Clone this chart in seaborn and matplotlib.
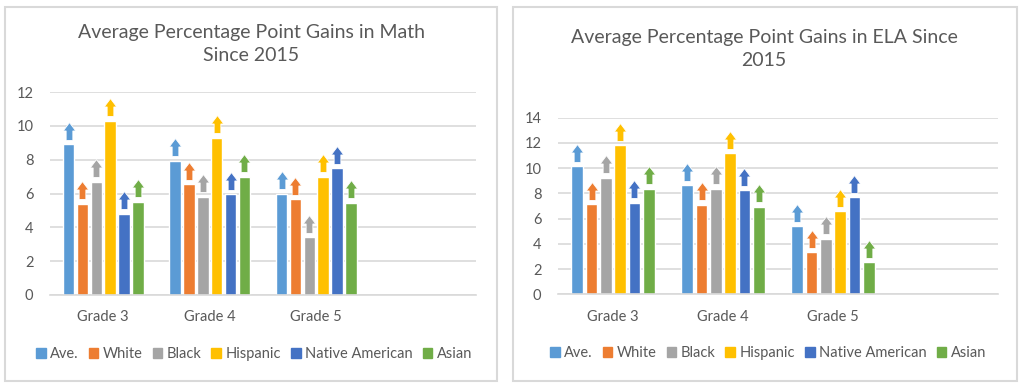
import matplotlib
matplotlib.use("Agg")
import matplotlib.pyplot as plt
import matplotlib.transforms as mtransforms
from matplotlib.path import Path
from matplotlib.patches import Patch, Rectangle
import seaborn as sns
import pandas as pd

grades = ["Grade 3", "Grade 4", "Grade 5"]
groups = ["Ave.", "White", "Black", "Hispanic", "Native American", "Asian"]
colors = ["#5B9BD5", "#ED7D31", "#A5A5A5", "#FFC000", "#4472C4", "#70AD47"]

# gains per group, one value per grade
math_gains = {
    "Ave.": [8.9, 7.95, 6.0],
    "White": [5.4, 6.55, 5.65],
    "Black": [6.7, 5.8, 3.4],
    "Hispanic": [10.3, 9.3, 7.0],
    "Native American": [4.8, 5.95, 7.5],
    "Asian": [5.5, 7.0, 5.45],
}
ela_gains = {
    "Ave.": [10.15, 8.65, 5.4],
    "White": [7.15, 7.1, 3.35],
    "Black": [9.25, 8.35, 4.4],
    "Hispanic": [11.8, 11.2, 6.6],
    "Native American": [7.25, 8.25, 7.7],
    "Asian": [8.35, 6.95, 2.55],
}

TXT = "#595959"
GRID = "#D9D9D9"

sns.set_style("white")
plt.rcParams["font.family"] = ["Lato", "DejaVu Sans"]

# upward arrow marker
arrow = Path([(-3.2, -8.5), (3.2, -8.5), (3.2, 0.5), (6, 0.5), (0, 8.5),
              (-6, 0.5), (-3.2, 0.5), (-3.2, -8.5)], closed=True)


def to_long(gains):
    rows = []
    for g in groups:
        for grade, v in zip(grades, gains[g]):
            rows.append({"grade": grade, "group": g, "gain": v})
    return pd.DataFrame(rows)


def draw_panel(fig, rect, gains, ymax, title, title_x, title_y):
    ax = fig.add_axes(rect)
    df = to_long(gains)
    sns.barplot(data=df, x="grade", y="gain", hue="group", hue_order=groups,
                palette=colors, width=0.78, gap=0.17, legend=False, ax=ax,
                saturation=1, errorbar=None)
    ax.set_xlim(-0.5, 3.5)
    ax.set_ylim(0, ymax)
    ax.set_yticks(range(0, ymax + 1, 2))
    ax.grid(axis="y", color=GRID, lw=1.2)
    ax.set_axisbelow(True)
    for s in ["top", "left", "right"]:
        ax.spines[s].set_visible(False)
    ax.spines["bottom"].set_color(GRID)
    ax.spines["bottom"].set_linewidth(1.2)
    ax.tick_params(axis="both", length=0, colors=TXT, labelsize=10.5)
    ax.tick_params(axis="x", pad=11)
    ax.tick_params(axis="y", pad=12)
    ax.set_xlabel("")
    ax.set_ylabel("")

    off = mtransforms.offset_copy(ax.transData, fig=fig, y=9.7, units="points")
    for cont, c in zip(ax.containers, colors):
        xs = [b.get_x() + b.get_width() / 2 for b in cont]
        ys = [b.get_height() for b in cont]
        ax.scatter(xs, ys, marker=arrow, s=165, color=c, edgecolor="white",
                   linewidth=0.6, transform=off, clip_on=False, zorder=5)

    fig.text(title_x, title_y, title, ha="center", va="center", color=TXT,
             fontsize=14, linespacing=1.4)
    return ax


fig = plt.figure(figsize=(10.24, 3.88), dpi=100)

# panel frames
for x0, x1 in [(5, 497), (513, 1017)]:
    fig.patches.append(Rectangle((x0 / 1024, 7 / 388), (x1 - x0) / 1024, 374 / 388,
                                 transform=fig.transFigure, fill=False,
                                 edgecolor=GRID, lw=1.5))

draw_panel(fig, [50 / 1024, 93 / 388, 426 / 1024, 203 / 388], math_gains, 12,
           "Average Percentage Point Gains in Math\nSince 2015",
           251 / 1024, 1 - 44 / 388)
draw_panel(fig, [558 / 1024, 93.7 / 388, 440 / 1024, 176.6 / 388], ela_gains, 14,
           "Average Percentage Point Gains in ELA Since\n2015",
           764 / 1024, 1 - 49 / 388)

handles = [Patch(color=c, label=g) for g, c in zip(groups, colors)]
for cx, cy in [(254 / 1024, 1 - 354 / 388), (768 / 1024, 1 - 353 / 388)]:
    leg = fig.legend(handles=handles, loc="center", bbox_to_anchor=(cx, cy),
                     ncol=6, frameon=False, fontsize=10.5, handlelength=0.65,
                     handleheight=0.65, handletextpad=0.3, columnspacing=0.7,
                     labelcolor=TXT)

fig.savefig("out.png", dpi=100)
